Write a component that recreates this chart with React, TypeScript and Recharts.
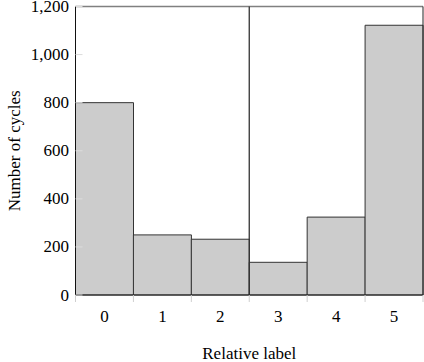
import React from 'react';
import { BarChart, Bar, XAxis, YAxis, ReferenceLine } from 'recharts';

const labels = ['0', '1', '2', '3', '4', '5'];
const counts = [800, 250, 232, 136, 324, 1122];
const yTicks = [0, 200, 400, 600, 800, 1000, 1200];
const xTitle = 'Relative label';
const yTitle = 'Number of cycles';

const data = labels.map((l, i) => ({ label: l, count: counts[i] }));

const W = 424;
const H = 362;
const M = { top: 6.5, right: 1, left: 0, bottom: 0 };
const YW = 75.5;
const XH = 67;
const PLOT_L = M.left + YW;
const PLOT_R = W - M.right;
const PLOT_B = H - M.bottom - XH;
const PLOT_T = M.top;
const BW = (PLOT_R - PLOT_L) / labels.length;
const FONT = '"Liberation Serif", "DejaVu Serif", serif';
const FS = 17;

const fmt = (v: number) => v.toLocaleString('en-US');

const XTick = (props: any) => {
  const { x, payload, index } = props;
  const left = x - BW / 2;
  return (
    <g>
      <line x1={left} x2={left} y1={PLOT_B} y2={PLOT_B + 7} stroke="#cfcfcf" strokeWidth={1} />
      {index === labels.length - 1 && (
        <line x1={x + BW / 2} x2={x + BW / 2} y1={PLOT_B} y2={PLOT_B + 7} stroke="#cfcfcf" strokeWidth={1} />
      )}
      <text x={x} y={PLOT_B + 27} textAnchor="middle" fontFamily={FONT} fontSize={FS} fill="#000">
        {payload.value}
      </text>
    </g>
  );
};

const YTick = (props: any) => {
  const { y, payload } = props;
  return (
    <g>
      <line x1={PLOT_L} x2={PLOT_L + 7} y1={y} y2={y} stroke="#dcdcdc" strokeWidth={1} />
      <text x={PLOT_L - 6.5} y={y} dy={5.5} textAnchor="end" fontFamily={FONT} fontSize={FS} fill="#000">
        {fmt(payload.value)}
      </text>
    </g>
  );
};

export default function App() {
  return (
    <div style={{ position: 'absolute', left: 0, top: 0, width: W, height: H, background: '#fff' }}>
      <BarChart width={W} height={H} data={data} margin={M} barCategoryGap={0}>
        <XAxis
          dataKey="label"
          height={XH}
          tickLine={false}
          axisLine={{ stroke: '#222', strokeWidth: 1 }}
          tick={<XTick />}
          interval={0}
          label={{
            content: () => (
              <text x={(PLOT_L + PLOT_R) / 2} y={H - 3} textAnchor="middle" fontFamily={FONT} fontSize={FS} fill="#000">
                {xTitle}
              </text>
            ),
          }}
        />
        <YAxis
          width={YW}
          domain={[0, 1200]}
          ticks={yTicks}
          interval={0}
          tickLine={false}
          axisLine={{ stroke: '#111', strokeWidth: 1 }}
          tick={<YTick />}
          label={{
            content: () => (
              <text
                x={14}
                y={(PLOT_T + PLOT_B) / 2}
                transform={`rotate(-90, 14, ${(PLOT_T + PLOT_B) / 2})`}
                textAnchor="middle"
                dominantBaseline="central"
                fontFamily={FONT}
                fontSize={FS}
                fill="#000"
              >
                {yTitle}
              </text>
            ),
          }}
        />
        <ReferenceLine y={1200} stroke="#808080" strokeWidth={1.5} ifOverflow="visible" />
        <Bar dataKey="count" fill="#cccccc" stroke="#333" strokeWidth={1} isAnimationActive={false} />
        <ReferenceLine x="3" position="start" stroke="#333" strokeWidth={1.3} />
        <ReferenceLine x="5" position="end" stroke="#222" strokeWidth={1} />
      </BarChart>
    </div>
  );
}
